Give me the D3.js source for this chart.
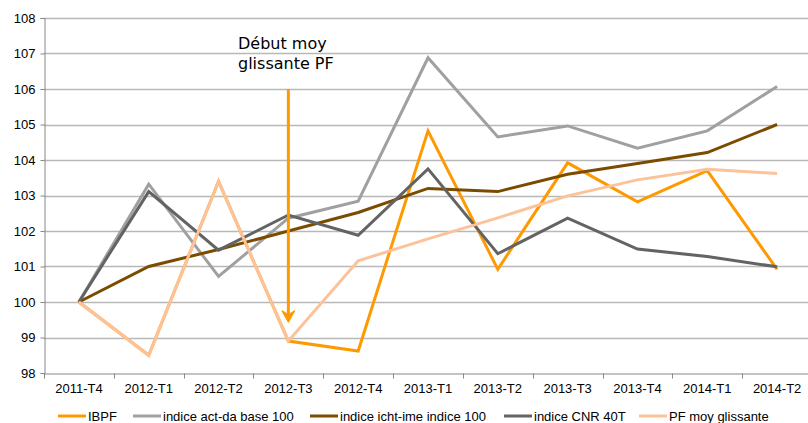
<!DOCTYPE html>
<html>
<head>
<meta charset="utf-8">
<script src="https://cdn.jsdelivr.net/npm/d3@7"></script>
<style>
body { margin: 0; background: #fff; }
svg { display: block; font-family: "Liberation Sans", Arial, sans-serif; }
</style>
</head>
<body>
<div id="chart"></div>
<script>
var ctx = { w: 808, h: 423 };

var categories = ["2011-T4", "2012-T1", "2012-T2", "2012-T3", "2012-T4", "2013-T1",
    "2013-T2", "2013-T3", "2013-T4", "2014-T1", "2014-T2"];
var yTicks = [98, 99, 100, 101, 102, 103, 104, 105, 106, 107, 108];

var ibpf = [100, 98.5, 103.4, 98.9, 98.62, 104.82, 100.92, 103.92, 102.82, 103.7, 100.92];
var actDa = [100, 103.32, 100.72, 102.36, 102.84, 106.88, 104.65, 104.96, 104.33, 104.82, 106.07];
var ichtIme = [100, 101.0, 101.48, 102.0, 102.52, 103.2, 103.11, 103.6, 103.9, 104.21, 105.0];
var cnr = [100, 103.11, 101.46, 102.45, 101.88, 103.75, 101.36, 102.36, 101.49, 101.28, 100.99];
var pfMoy = [100, 98.5, 103.4, 98.9, 101.16, 101.78, 102.37, 102.99, 103.44, 103.74, 103.62];

var seriesNames = ["IBPF", "indice act-da base 100", "indice icht-ime indice 100",
    "indice CNR 40T", "PF moy glissante"];
var seriesColors = ["#ff9900", "#a0a0a0", "#7b4c00", "#636363", "#fcc29a"];
var seriesValues = [ibpf, actDa, ichtIme, cnr, pfMoy];

var svg = d3.select("#chart").append("svg")
    .attr("width", ctx.w)
    .attr("height", ctx.h);

var x = d3.scaleBand().domain(categories).range([44, 812]);
var y = d3.scaleLinear().domain([98, 108]).range([373, 18]);

// gridlines
svg.append("g").selectAll("line")
    .data(yTicks.slice(1))
    .enter().append("line")
    .attr("x1", 44).attr("x2", ctx.w)
    .attr("y1", function (d) { return Math.round(y(d)) + 0.5; })
    .attr("y2", function (d) { return Math.round(y(d)) + 0.5; })
    .attr("stroke", "#b8b8b8")
    .attr("stroke-width", 1.3);

// y axis
var yAxis = svg.append("g")
    .attr("transform", "translate(44.5,0)")
    .call(d3.axisLeft(y).tickValues(yTicks).tickSize(4).tickPadding(5).tickFormat(d3.format("d")))
    .attr("font-family", "Liberation Sans, Arial, sans-serif");
yAxis.select(".domain").attr("stroke", "#888");
yAxis.selectAll(".tick line").attr("stroke", "#888");
yAxis.selectAll("text").style("font-size", "13px").attr("fill", "#000");

// x axis
var xAxis = svg.append("g")
    .attr("transform", "translate(0," + (Math.round(y(98)) + 0.5) + ")")
    .call(d3.axisBottom(x).tickSize(0).tickPadding(10))
    .attr("font-family", "Liberation Sans, Arial, sans-serif");
xAxis.select(".domain").attr("stroke", "#888");
xAxis.selectAll("text").style("font-size", "13px").attr("fill", "#000");
xAxis.selectAll(".sep")
    .data(categories)
    .enter().append("line")
    .attr("class", "sep")
    .attr("x1", function (d) { return Math.round(x(d)) + 0.5; })
    .attr("x2", function (d) { return Math.round(x(d)) + 0.5; })
    .attr("y1", 0).attr("y2", 5)
    .attr("stroke", "#888");

// series lines
var line = d3.line()
    .x(function (d, i) { return x(categories[i]) + x.bandwidth() / 2; })
    .y(function (d) { return y(d); });

svg.append("g").selectAll("path")
    .data(seriesValues)
    .enter().append("path")
    .attr("d", line)
    .attr("fill", "none")
    .attr("stroke", function (d, i) { return seriesColors[i]; })
    .attr("stroke-width", 3)
    .attr("stroke-linejoin", "miter");

// annotation arrow
var ax = x("2012-T3") + x.bandwidth() / 2;
svg.append("line")
    .attr("x1", ax).attr("x2", ax)
    .attr("y1", y(106)).attr("y2", 318)
    .attr("stroke", "#ff9900")
    .attr("stroke-width", 3);
svg.append("path")
    .attr("d", "M" + (ax - 6) + ",311 L" + ax + ",322 L" + (ax + 6) + ",311 L" + ax + ",315 Z")
    .attr("fill", "#ff9900")
    .attr("stroke", "#ff9900")
    .attr("stroke-width", 1.5)
    .attr("stroke-linejoin", "round");

var note = svg.append("text")
    .attr("x", 238)
    .attr("y", 49)
    .style("font-family", "'DejaVu Sans', Verdana, sans-serif")
    .style("font-size", "16px")
    .attr("fill", "#000");
note.append("tspan").attr("x", 238).text("Début moy");
note.append("tspan").attr("x", 238).attr("dy", 20).text("glissante PF");

// legend
var legendX = [58, 133, 310, 504, 639];
var legend = svg.append("g").selectAll("g")
    .data(seriesNames)
    .enter().append("g")
    .attr("transform", function (d, i) { return "translate(" + legendX[i] + ",416)"; });
legend.append("line")
    .attr("x1", 0).attr("x2", 28)
    .attr("stroke", function (d, i) { return seriesColors[i]; })
    .attr("stroke-width", 3);
legend.append("text")
    .attr("x", 30)
    .attr("dy", "0.35em")
    .style("font-size", "13px")
    .attr("fill", "#000")
    .text(function (d) { return d; });
</script>
</body>
</html>
